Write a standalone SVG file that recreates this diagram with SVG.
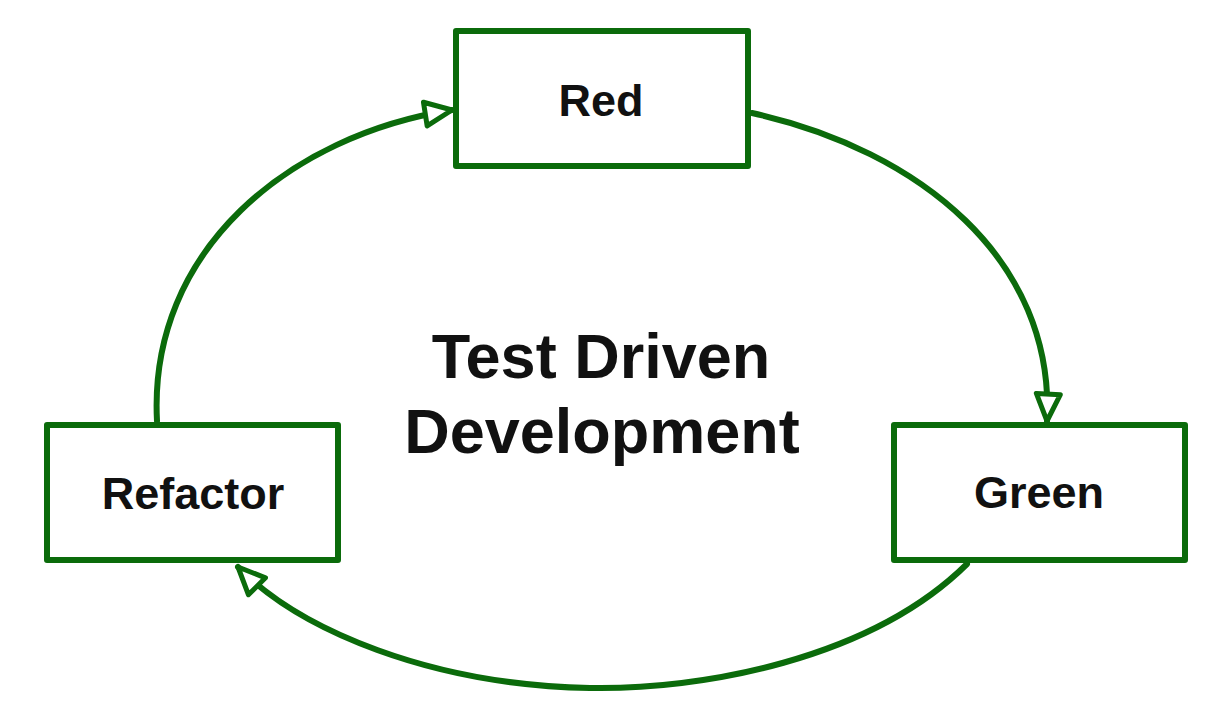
<svg xmlns="http://www.w3.org/2000/svg" width="1230" height="720" viewBox="0 0 1230 720">
<defs>
<style>
.box{fill:#fff;stroke:#0b6b0b;stroke-width:6;stroke-linejoin:round}
.lbl{font-family:"Liberation Sans",Arial,sans-serif;font-weight:bold;font-size:45px;fill:#111;text-anchor:middle}
.title{font-family:"Liberation Sans",Arial,sans-serif;font-weight:bold;font-size:63px;fill:#111;text-anchor:middle}
.conn{fill:none;stroke:#0b6b0b;stroke-width:6;stroke-linecap:round}
</style>
<marker id="arr" viewBox="0 0 34 34" refX="31" refY="17" markerWidth="34" markerHeight="34" markerUnits="userSpaceOnUse" orient="auto">
<path d="M4,5 L31,17 L4,29 Z" fill="#fff" stroke="#0b6b0b" stroke-width="5" stroke-linejoin="round"/>
</marker>
</defs>
<rect width="1230" height="720" fill="#fff"/>
<g id="connectors">
<path class="conn" d="M157,421 C148,250 290,135 452,110" marker-end="url(#arr)"/>
<path class="conn" d="M752,113 C920,150 1055,260 1047,421" marker-end="url(#arr)"/>
<path class="conn" d="M967,564 C870,660 700,690 590,688 C430,685 300,630 238,567" marker-end="url(#arr)"/>
</g>
<g id="red"><rect class="box" x="456" y="31" width="292" height="135"/><text class="lbl" x="601" y="116">Red</text></g>
<g id="green"><rect class="box" x="894" y="425" width="291" height="135"/><text class="lbl" x="1039" y="508">Green</text></g>
<g id="refactor"><rect class="box" x="47" y="425" width="291" height="135"/><text class="lbl" x="193" y="509">Refactor</text></g>
<g id="title"><text class="title" x="601" y="378">Test Driven</text><text class="title" x="602" y="453">Development</text></g>
</svg>
